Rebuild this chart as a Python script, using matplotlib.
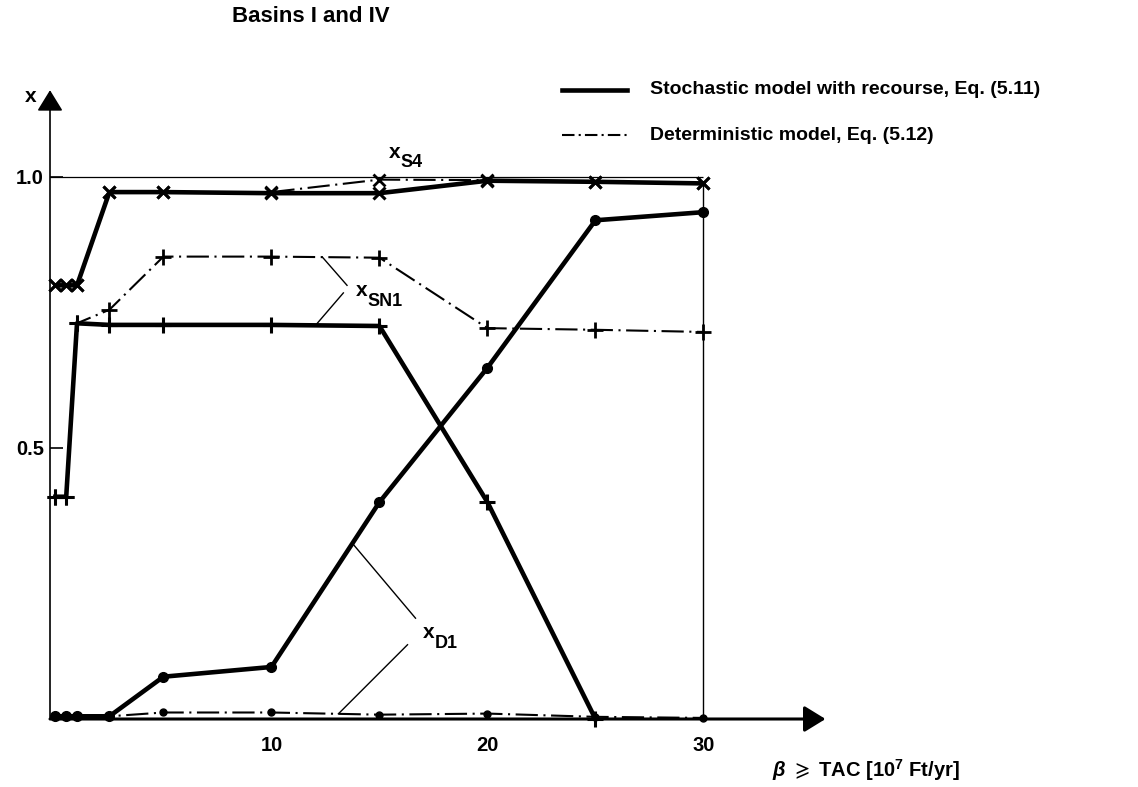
import numpy as np
import matplotlib
matplotlib.use("Agg")
import matplotlib.pyplot as plt
from matplotlib.transforms import offset_copy
from matplotlib.lines import Line2D

plt.rcParams["font.family"] = ["Liberation Sans", "DejaVu Sans"]
plt.rcParams["font.weight"] = "bold"
plt.rcParams["lines.scale_dashes"] = False
plt.rcParams["mathtext.fontset"] = "custom"
plt.rcParams["mathtext.rm"] = "Liberation Sans:bold"
plt.rcParams["mathtext.it"] = "Liberation Sans:italic:bold"
plt.rcParams["mathtext.bf"] = "Liberation Sans:bold"
plt.rcParams["mathtext.fallback"] = "stixsans"

# ---- data -------------------------------------------------------------
beta = [0, 0.5, 1, 2.5, 5, 10, 15, 20, 25, 30]          # beta >= TAC [10^7 Ft/yr]

xs4_stoch = [0.80, 0.80, 0.80, 0.972, 0.972, 0.970, 0.970, 0.993, 0.991, 0.988]
xs4_det = [0.80, 0.80, 0.80, 0.972, 0.972, 0.972, 0.995, 0.994, 0.991, 0.989]

xsn1_stoch = [0.41, 0.41, 0.73, 0.727, 0.727, 0.727, 0.725, 0.40, 0.0, np.nan]
xsn1_det = [0.41, 0.41, 0.73, 0.755, 0.853, 0.853, 0.851, 0.721, 0.718, 0.714]

xd1_stoch = [0.005, 0.005, 0.005, 0.005, 0.078, 0.096, 0.40, 0.648, 0.92, 0.935]
xd1_det = [0.005, 0.005, 0.005, 0.005, 0.012, 0.012, 0.008, 0.010, 0.004, 0.002]

x_ticks = [10, 20, 30]
y_ticks = [0.5, 1.0]
y_ticklabels = ["0.5", "1.0"]

# ---- figure -----------------------------------------------------------
fig = plt.figure(figsize=(11.38, 7.87), dpi=100)
ax = fig.add_axes([0.04394, 0.0864, 0.6881, 0.8059])
x_left, x_right = -0.25, 36
ax.set_xlim(x_left, x_right)
ax.set_ylim(0, 1.17)
for s in ax.spines.values():
    s.set_visible(False)

# axes drawn as arrows
head = "-|>,head_length=0.65,head_width=0.4"
ax.annotate("", xy=(x_left, 1.16), xytext=(x_left, 0),
            arrowprops=dict(arrowstyle=head, lw=1.2, color="black",
                            shrinkA=0, shrinkB=0, mutation_scale=20),
            annotation_clip=False)
ax.annotate("", xy=(35.65, 0), xytext=(x_left, 0),
            arrowprops=dict(arrowstyle=head, lw=2.2, color="black",
                            shrinkA=0, shrinkB=0, mutation_scale=20),
            annotation_clip=False)

ax.set_xticks(x_ticks)
ax.set_xticklabels([str(t) for t in x_ticks])
ax.tick_params(axis="x", length=0, pad=12, labelsize=14.5)
ax.set_yticks(y_ticks)
ax.set_yticklabels(y_ticklabels)
ax.tick_params(axis="y", direction="in", length=9.5, width=1.2, pad=4.5,
               labelsize=14.5)

# reference frame: level 1.0 and the right edge at the last beta
ax.hlines(1.0, x_left, beta[-1], color="black", lw=0.9)
ax.vlines(beta[-1], 0, xs4_stoch[-1], color="black", lw=1.0)

solid = dict(color="black", lw=3.3, solid_joinstyle="round", clip_on=False)
dashdot = dict(color="black", lw=1.5, linestyle=(0, (16, 4, 1.5, 4)), clip_on=False)

# deterministic model
ax.plot(beta, xs4_det, marker="x", ms=8, mew=2, **dashdot)
ax.plot(beta, xsn1_det, marker="+", ms=12, mew=2, **dashdot)
ax.plot(beta, xd1_det, marker="o", ms=5, **dashdot)
# stochastic model with recourse
ax.plot(beta, xs4_stoch, marker="x", ms=8, mew=2.2, **solid)
ax.plot(beta, xsn1_stoch, marker="+", ms=12, mew=2.2, **solid)
ax.plot(beta, xd1_stoch, marker="o", ms=7, **solid)

# ---- curve labels with leader lines -----------------------------------
def var_label(x, y, sub):
    ax.text(x, y, "x", fontsize=15, ha="left", va="center")
    tr = offset_copy(ax.transData, fig=fig, x=8.5, y=-7.5, units="points")
    ax.text(x, y, sub, fontsize=13, ha="left", va="center", transform=tr)

var_label(15.42, 1.045, "S4")
var_label(13.9, 0.79, "SN1")
var_label(17.0, 0.159, "D1")

def leader(x_on, series, x_end, y_end):
    y_on = np.interp(x_on, beta, series)
    ax.plot([x_on, x_end], [y_on, y_end], color="black", lw=1.0)

leader(12.36, xsn1_det, 13.5, 0.80)
leader(12.04, xsn1_stoch[:-1] + [0.0], 13.33, 0.786)
leader(13.75, xd1_stoch, 16.67, 0.186)
leader(13.1, xd1_det, 16.3, 0.137)

# ---- axis names, title, legend ----------------------------------------
fig.text(31 / 1138, 1 - 96 / 787, "x", fontsize=15, ha="center", va="center")
fig.text(772 / 1138, 1 - 770 / 787, r"$\beta$ $\geqslant$ TAC [10$^7$ Ft/yr]",
         fontsize=14.5, ha="left", va="center")
fig.text(232 / 1138, 1 - 17 / 787, "Basins I and IV", fontsize=16,
         ha="left", va="center")

legend_rows = [
    ("Stochastic model with recourse, Eq. (5.11)", dict(lw=3.3, linestyle="-")),
    ("Deterministic model, Eq. (5.12)", dict(lw=1.5, linestyle=(0, (9, 3, 1.5, 3)))),
]
for (txt, style), ypx in zip(legend_rows, [90, 135]):
    yf = 1 - ypx / 787
    fig.add_artist(Line2D([562 / 1138, 627 / 1138], [yf, yf], color="black",
                          transform=fig.transFigure, **style))
    fig.text(650 / 1138, yf, txt, fontsize=14, ha="left", va="center")

fig.savefig("out.png", dpi=100)
